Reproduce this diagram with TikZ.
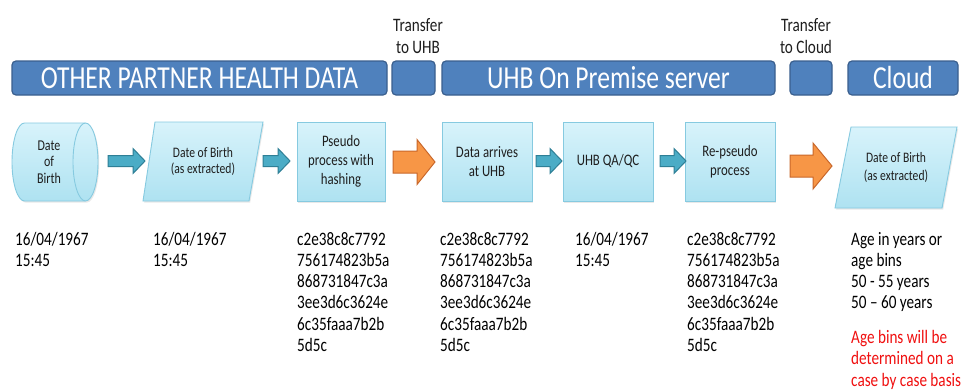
\documentclass[tikz,border=0pt]{standalone}
\usepackage{fontspec}
\setmainfont{Carlito}[FakeStretch=0.8]
\usetikzlibrary{shadows}
\definecolor{hdr}{HTML}{4F81BD}
\definecolor{hdrline}{HTML}{3A5F8E}
\definecolor{boxtop}{HTML}{D8F3FB}
\definecolor{boxbot}{HTML}{AEE2F1}
\definecolor{boxline}{HTML}{86CAE0}
\definecolor{teal}{HTML}{4BACC6}
\definecolor{tealline}{HTML}{2E7F96}
\definecolor{orng}{HTML}{F79646}
\definecolor{orngline}{HTML}{C9672A}
\definecolor{txt}{HTML}{1E1E1E}
\definecolor{redtxt}{HTML}{F01010}
\newcommand\blockarrow[8]{% x1,xh,x2,yc,shaft half,head half,fill,line
  \filldraw[fill=#7,draw=#8,line width=1pt,line join=miter]
    (#1,#4-#5) -- (#2,#4-#5) -- (#2,#4-#6) -- (#3,#4) -- (#2,#4+#6)
    -- (#2,#4+#5) -- (#1,#4+#5) -- cycle;}
\newcommand\toplines[1]{\begin{tabular}[t]{@{}l@{}}#1\end{tabular}}
\begin{document}
\begin{tikzpicture}[x=1pt,y=-1pt,
  hbar/.style={draw=hdrline,fill=hdr,line width=1.2pt,rounded corners=4pt,
    text=white,font=\fontsize{32}{34}\selectfont,inner sep=0pt,minimum height=34pt},
  shapefill/.style={draw=boxline,line width=0.9pt,top color=boxtop,bottom color=boxbot,
    drop shadow={opacity=0.18,shadow xshift=1.2pt,shadow yshift=-1.6pt}},
  procbox/.style={shapefill,minimum width=88pt,minimum height=79pt,inner sep=0pt,
    align=center,text=txt,font=\fontsize{16}{19}\selectfont},
  intext/.style={align=center,text=txt,inner sep=0pt},
  toptext/.style={align=center,text=txt,inner sep=0pt,font=\fontsize{19}{22.5}\selectfont},
  datatext/.style={anchor=base west,inner sep=0pt,text=black,
    font=\fontsize{19}{21.3}\selectfont},
  redtext/.style={anchor=base west,inner sep=0pt,text=redtxt,
    font=\fontsize{19}{21.5}\selectfont}]
\useasboundingbox[fill=white] (0,0) rectangle (963,391);

% header
\node[toptext] (t1) at (418,36) {Transfer\\to UHB};
\node[toptext] (t2) at (806,36) {Transfer\\to Cloud};
\node[hbar,minimum width=375pt] (h1) at (199.5,78) {OTHER PARTNER HEALTH DATA};
\node[hbar,minimum width=43pt] (h2) at (413.5,78) {};
\node[hbar,minimum width=333pt] (h3) at (608.5,78) {UHB On Premise server};
\node[hbar,minimum width=42pt] (h4) at (811,78) {};
\node[hbar,minimum width=110pt] (h5) at (903,78) {Cloud};

% cylinder
\path[shapefill] (24.5,123) -- (85.5,123)
  arc[start angle=90,end angle=-90,x radius=12.5pt,y radius=39pt]
  -- (24.5,201) arc[start angle=270,end angle=90,x radius=12.5pt,y radius=39pt] -- cycle;
\draw[boxline,line width=0.9pt] (85.5,123)
  arc[start angle=90,end angle=270,x radius=12.5pt,y radius=39pt];
\node[intext,font=\fontsize{15}{16.5}\selectfont] (cyl) at (49,162) {Date\\of\\Birth};

% parallelogram 1
\path[shapefill] (155,122) -- (263,122) -- (249,201) -- (143,201) -- cycle;
\node[intext,font=\fontsize{14.5}{16}\selectfont] (p1) at (203,161.5) {Date of Birth\\(as extracted)};

% boxes
\node[procbox] (b1) at (341,161.5) {Pseudo\\process with\\hashing};
\node[procbox,minimum width=90pt] (b2) at (487,161.5) {Data arrives\\at UHB};
\node[procbox,minimum width=90pt] (b3) at (608,161.5) {UHB QA/QC};
\node[procbox,minimum width=90pt] (b4) at (730,161.5) {Re-pseudo\\process};

% parallelogram 2
\path[shapefill] (851,127) -- (957,127) -- (942,208) -- (835,208) -- cycle;
\node[intext,font=\fontsize{14.5}{18}\selectfont] (p2) at (896,167.5) {Date of Birth\\(as extracted)};

% arrows
\blockarrow{108}{133}{145}{161}{5.5}{12.5}{teal}{tealline}
\blockarrow{263}{278}{290}{161}{5.5}{12.5}{teal}{tealline}
\blockarrow{536}{550}{562}{161}{5.5}{12.5}{teal}{tealline}
\blockarrow{660}{674}{686}{161}{5.5}{12.5}{teal}{tealline}
\blockarrow{393}{417}{435}{162}{11}{22.5}{orng}{orngline}
\blockarrow{790}{813}{832}{166}{11}{23}{orng}{orngline}

% data texts
\node[datatext] (d1) at (15,245) {\toplines{16/04/1967\\15:45}};
\node[datatext] (d2) at (153,245) {\toplines{16/04/1967\\15:45}};
\node[datatext] (d3) at (297,245) {\toplines{c2e38c8c7792\\756174823b5a\\868731847c3a\\3ee3d6c3624e\\6c35faaa7b2b\\5d5c}};
\node[datatext] (d4) at (440,245) {\toplines{c2e38c8c7792\\756174823b5a\\868731847c3a\\3ee3d6c3624e\\6c35faaa7b2b\\5d5c}};
\node[datatext] (d5) at (575,245) {\toplines{16/04/1967\\15:45}};
\node[datatext] (d6) at (687,245) {\toplines{c2e38c8c7792\\756174823b5a\\868731847c3a\\3ee3d6c3624e\\6c35faaa7b2b\\5d5c}};
\node[datatext] (d7) at (851,245) {\toplines{Age in years or\\age bins\\50 - 55 years\\50 – 60 years}};
\node[redtext] (r1) at (851,343) {\toplines{Age bins will be\\determined on a\\case by case basis}};
\end{tikzpicture}
\end{document}
